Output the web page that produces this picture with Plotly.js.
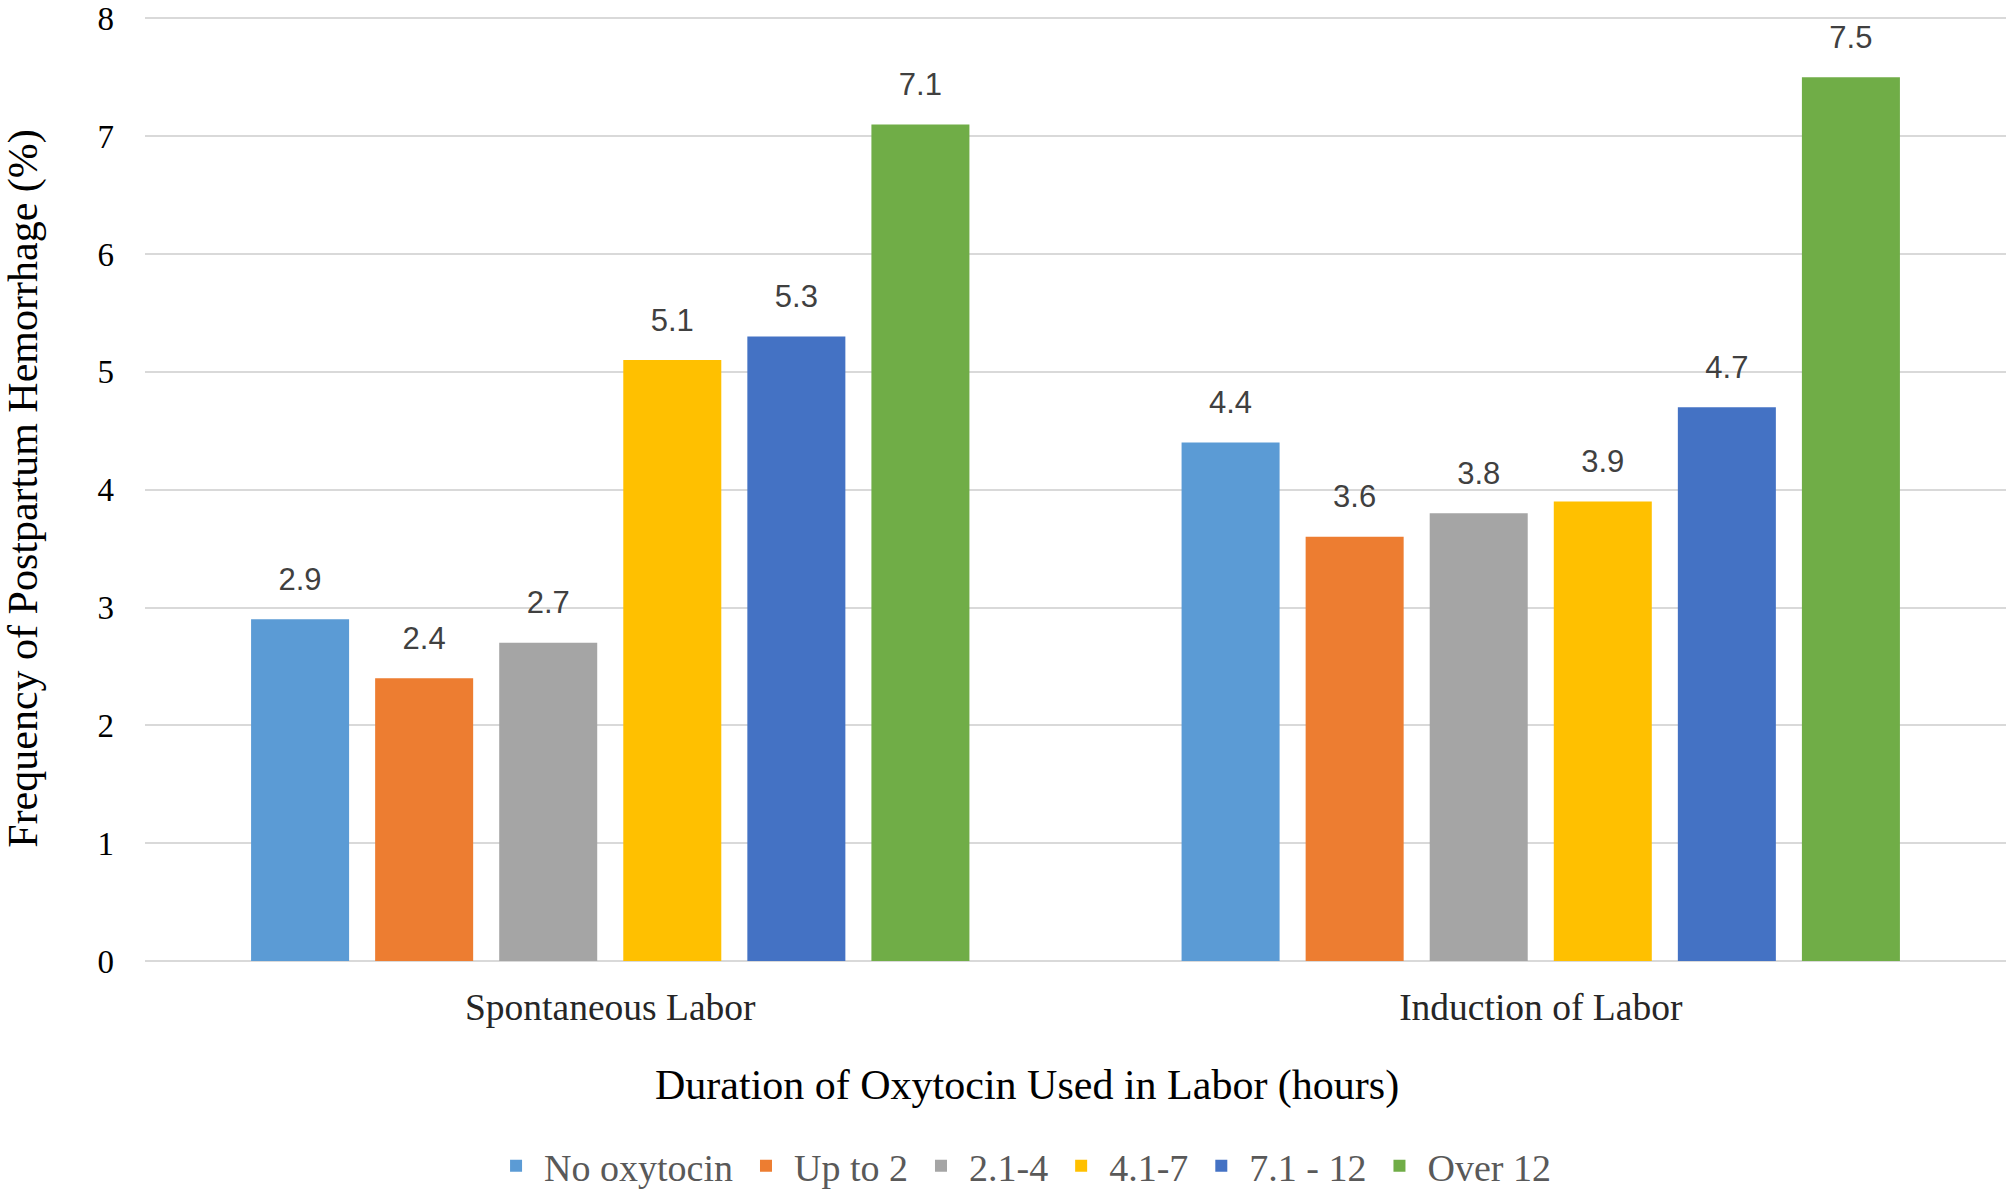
<!DOCTYPE html>
<html>
<head>
<meta charset="utf-8">
<script src="https://cdn.plot.ly/plotly-3.0.1.min.js"></script>
<style>
  html, body { margin: 0; padding: 0; background: #ffffff; }
  #chart { width: 2006px; height: 1191px; }
</style>
</head>
<body>
<div id="chart"></div>
<script>
// ---- data ----
const categories = ['Spontaneous Labor', 'Induction of Labor'];
const seriesNames = ['No oxytocin', 'Up to 2', '2.1-4', '4.1-7', '7.1 - 12', 'Over 12'];
const noOxytocin = [2.9, 4.4];
const upTo2      = [2.4, 3.6];
const range21to4 = [2.7, 3.8];
const range41to7 = [5.1, 3.9];
const range71to12 = [5.3, 4.7];
const over12     = [7.1, 7.5];
const seriesValues = [noOxytocin, upTo2, range21to4, range41to7, range71to12, over12];
const yTickValues = [0, 1, 2, 3, 4, 5, 6, 7, 8];
const xTitle = 'Duration of Oxytocin Used in Labor (hours)';
const yTitle = 'Frequency of Postpartum Hemorrhage (%)';

// ---- styles ----
const colors = ['#5B9BD5', '#ED7D31', '#A5A5A5', '#FFC000', '#4472C4', '#70AD47'];
const serif = 'Liberation Serif, Times New Roman, serif';
const sans = 'Liberation Sans, Arial, sans-serif';

const traces = [];
seriesValues.forEach((vals, i) => {
  traces.push({
    type: 'bar',
    name: seriesNames[i],
    x: categories,
    y: vals,
    marker: { color: colors[i], line: { width: 0 } },
    offsetgroup: 'g' + i,
    alignmentgroup: 'a',
    hoverinfo: 'x+y+name'
  });
});
// value labels, aligned with the bars of the same offset group
seriesValues.forEach((vals, i) => {
  traces.push({
    type: 'scatter',
    mode: 'markers+text',
    x: categories,
    y: vals,
    text: vals.map(v => v.toFixed(1)),
    textposition: 'top center',
    textfont: { family: sans, size: 31, color: '#404040' },
    marker: { size: 33, color: 'rgba(0,0,0,0)' },
    offsetgroup: 'g' + i,
    alignmentgroup: 'a',
    showlegend: false,
    hoverinfo: 'skip',
    cliponaxis: false
  });
});

const layout = {
  width: 2006,
  height: 1191,
  paper_bgcolor: '#ffffff',
  plot_bgcolor: '#ffffff',
  margin: { l: 145, r: 0, t: 16, b: 230 },
  barmode: 'group',
  scattermode: 'group',
  bargap: 0.2,
  bargroupgap: 0.21,
  showlegend: true,
  legend: {
    orientation: 'h',
    xref: 'container', yref: 'container',
    x: 0.5095, xanchor: 'center',
    y: 0.021, yanchor: 'middle',
    font: { family: serif, size: 38, color: '#595959' },
    traceorder: 'normal',
    itemwidth: 46
  },
  xaxis: {
    type: 'category',
    range: [-0.5, 1.5],
    showgrid: false,
    showline: false,
    ticks: '',
    ticklabelstandoff: 20,
    tickfont: { family: serif, size: 37.5, color: '#262626' },
    fixedrange: true
  },
  yaxis: {
    range: [0, 8.02],
    tickvals: yTickValues,
    showgrid: true,
    gridcolor: '#D9D9D9',
    gridwidth: 2,
    zeroline: true,
    zerolinecolor: '#D9D9D9',
    zerolinewidth: 2,
    showline: false,
    ticks: '',
    ticklabelstandoff: 30,
    ticklabeloverflow: 'allow',
    tickfont: { family: serif, size: 33, color: '#000000' },
    title: {
      text: yTitle,
      font: { family: serif, size: 42, color: '#000000' },
      standoff: 50
    },
    fixedrange: true
  },
  annotations: [{
    text: xTitle,
    xref: 'paper', yref: 'paper',
    x: 0.474, xanchor: 'center',
    y: -0.1322, yanchor: 'middle',
    showarrow: false,
    font: { family: serif, size: 42, color: '#000000' }
  }],
  font: { family: serif }
};

Plotly.newPlot('chart', traces, layout, { displayModeBar: false });
</script>
</body>
</html>
